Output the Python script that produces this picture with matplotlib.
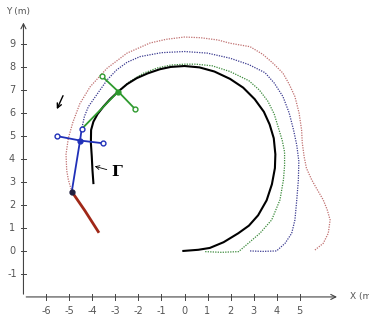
import matplotlib.pyplot as plt

# reference path (black) and the three robot trajectories, in metres
black_x = [-0.05, 0.6, 1.1, 1.7, 2.34, 2.8, 3.2, 3.57, 3.8, 3.93, 3.95, 3.88, 3.7, 3.45, 3.05, 2.55, 1.98, 1.3, 0.65, 0.0,
           -0.6, -1.07, -1.6, -2.08, -2.5, -2.88, -3.25, -3.53, -3.78, -3.96, -4.06, -4.07, -4.03, -4.0, -3.96]
black_y = [0.0, 0.05, 0.13, 0.38, 0.77, 1.1, 1.55, 2.2, 2.9, 3.6, 4.2, 4.9, 5.5, 6.05, 6.6, 7.1, 7.48, 7.8, 7.98, 8.04,
           8.0, 7.9, 7.72, 7.51, 7.25, 6.93, 6.58, 6.27, 5.95, 5.62, 5.26, 4.7, 4.1, 3.5, 2.95]

green_x = [0.9, 1.6, 2.35, 2.77, 3.28, 3.79, 4.15, 4.3, 4.35, 4.35, 4.25, 4.11, 3.9, 3.63, 3.25, 2.8, 1.98, 1.2, 0.5, 0.0,
           -0.6, -1.2, -1.8, -2.4, -2.88]
green_y = [-0.03, -0.06, -0.03, 0.33, 0.77, 1.35, 2.22, 3.09, 3.7, 4.3, 4.8, 5.26, 5.95, 6.5, 7.0, 7.4, 7.8, 8.05, 8.12, 8.12,
           8.08, 7.95, 7.72, 7.35, 6.93]

blue_x = [2.85, 3.4, 4.0, 4.37, 4.66, 4.8, 4.88, 4.95, 4.97, 4.88, 4.74, 4.55, 4.28, 3.9, 3.5, 2.8, 1.98, 1.0, 0.0,
          -1.0, -1.93, -2.5, -2.95, -3.35, -3.67, -4.18, -4.35, -4.47]
blue_y = [0.0, -0.02, 0.0, 0.33, 0.77, 1.35, 2.22, 3.09, 3.9, 4.6, 5.26, 6.0, 6.71, 7.3, 7.75, 8.1, 8.38, 8.6, 8.67,
          8.62, 8.45, 8.2, 7.87, 7.45, 7.0, 6.27, 5.85, 5.3]

red_x = [5.67, 6.03, 6.25, 6.33, 6.2, 6.03, 5.75, 5.53, 5.3, 5.2, 5.12, 5.09, 4.98, 4.8, 4.55, 4.28, 3.85, 3.4, 2.85, 1.98,
         1.46, 0.7, 0.0, -0.8, -1.5, -2.5, -3.37, -4.1, -4.55, -4.85, -5.05, -5.15, -5.12, -5.05, -4.9]
red_y = [0.04, 0.33, 0.77, 1.35, 1.8, 2.22, 2.7, 3.09, 3.6, 4.1, 4.7, 5.26, 6.0, 6.71, 7.25, 7.73, 8.16, 8.55, 8.88, 9.03,
         9.17, 9.27, 9.3, 9.2, 9.04, 8.6, 7.94, 7.14, 6.4, 5.6, 4.9, 4.2, 3.5, 3.1, 2.58]

# robot bodies
blue_body_x = [-4.47, -4.54, -4.9]
blue_body_y = [5.3, 4.8, 2.58]
blue_bar_x = [-5.53, -4.54, -3.53]
blue_bar_y = [4.99, 4.8, 4.68]
green_body_x = [-4.47, -2.88]
green_body_y = [5.3, 6.93]
green_bar_x = [-3.59, -2.88, -2.15]
green_bar_y = [7.6, 6.93, 6.17]
red_body_x = [-4.9, -4.33, -3.75]
red_body_y = [2.58, 1.75, 0.84]

x_ticks = [-6, -5, -4, -3, -2, -1, 0, 1, 2, 3, 4, 5]
y_ticks = [-1, 0, 1, 2, 3, 4, 5, 6, 7, 8, 9]

fig = plt.figure(figsize=(3.69, 3.25), dpi=100)
ax = fig.add_axes([0, 0, 1, 1])
ax.set_xlim(-8.02, 8.02)
ax.set_ylim(-3.22, 10.91)
ax.axis("off")

axis_col = "#444444"
lbl_col = "#555555"

# hand drawn axes with arrows
ax.annotate("", xy=(6.75, -2), xytext=(-7, -2),
            arrowprops=dict(arrowstyle="->", lw=0.8, color=axis_col, mutation_scale=9))
ax.annotate("", xy=(-7, 10.05), xytext=(-7, -2),
            arrowprops=dict(arrowstyle="->", lw=0.8, color=axis_col, mutation_scale=9))
for t in x_ticks:
    ax.plot([t, t], [-2.12, -1.88], color=axis_col, lw=0.7)
    ax.text(t, -2.6, str(t), ha="center", va="center", fontsize=7, color=lbl_col)
for t in y_ticks:
    ax.plot([-7.12, -6.88], [t, t], color=axis_col, lw=0.7)
    ax.text(-7.5, t, str(t), ha="center", va="center", fontsize=7, color=lbl_col)
ax.text(-7.25, 10.4, "Y (m)", ha="center", va="center", fontsize=6.5, color=lbl_col)
ax.text(7.2, -2.0, "X (m)", ha="left", va="center", fontsize=6.5, color=lbl_col)

# trajectories
ax.plot(red_x, red_y, color="#c07070", lw=0.9, ls=(0, (1, 1)))
ax.plot(blue_x, blue_y, color="#3a3a90", lw=0.9, ls=(0, (1, 1)))
ax.plot(green_x, green_y, color="#3a8a3a", lw=0.9, ls=(0, (1, 1)))
ax.plot(black_x, black_y, color="black", lw=1.5)

# robots
ax.plot(red_body_x, red_body_y, color="#a02818", lw=2)
ax.plot(blue_body_x, blue_body_y, color="#2030b8", lw=1.3)
ax.plot(blue_bar_x, blue_bar_y, color="#2030b8", lw=1.3)
ax.plot(green_body_x, green_body_y, color="#2e9a2e", lw=1.3)
ax.plot(green_bar_x, green_bar_y, color="#2e9a2e", lw=1.3)
ax.plot([blue_bar_x[0], blue_bar_x[2], blue_body_x[0]], [blue_bar_y[0], blue_bar_y[2], blue_body_y[0]],
        ls="none", marker="o", ms=3.5, mfc="white", mec="#2030b8", mew=1)
ax.plot([green_bar_x[0], green_bar_x[2]], [green_bar_y[0], green_bar_y[2]],
        ls="none", marker="o", ms=3.5, mfc="white", mec="#2e9a2e", mew=1)
ax.plot(blue_bar_x[1], blue_bar_y[1], marker="o", ms=3.5, color="#2030b8")
ax.plot(green_bar_x[1], green_bar_y[1], marker="o", ms=3.5, color="#2e9a2e")
ax.plot(blue_body_x[2], blue_body_y[2], marker="o", ms=3.5, color="#202040")

# direction arrow and the Gamma label
ax.annotate("", xy=(-5.6, 6.05), xytext=(-5.23, 6.86),
            arrowprops=dict(arrowstyle="->", lw=1, color="black", mutation_scale=8))
ax.annotate("Γ", xy=(-3.9, 3.68), xytext=(-3.2, 3.42), ha="left", va="center",
            fontsize=11, family="DejaVu Serif", fontweight="bold",
            arrowprops=dict(arrowstyle="->", lw=0.6, color="black", mutation_scale=7, shrinkA=1, shrinkB=0))

plt.savefig("out.png", dpi=100)
